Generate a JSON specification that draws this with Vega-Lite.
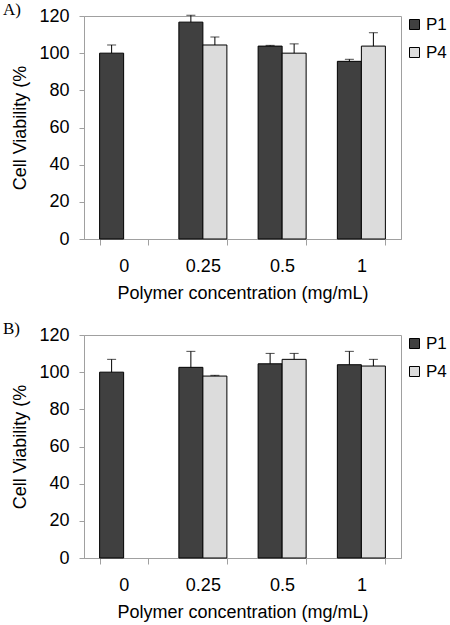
{
  "$schema": "https://vega.github.io/schema/vega-lite/v6.json",
  "padding": {"left": 2, "top": 0, "right": 0, "bottom": 0},
  "spacing": 16,
  "background": "white",
  "data": {
    "values": [
      {"panel": "A", "conc": "0", "polymer": "P1", "value": 100, "err": 104.4},
      {"panel": "A", "conc": "0.25", "polymer": "P1", "value": 116.7, "err": 120.4},
      {"panel": "A", "conc": "0.25", "polymer": "P4", "value": 104.4, "err": 108.7},
      {"panel": "A", "conc": "0.5", "polymer": "P1", "value": 103.8, "err": 104.2},
      {"panel": "A", "conc": "0.5", "polymer": "P4", "value": 100, "err": 105},
      {"panel": "A", "conc": "1", "polymer": "P1", "value": 95.6, "err": 96.7},
      {"panel": "A", "conc": "1", "polymer": "P4", "value": 103.8, "err": 111},
      {"panel": "B", "conc": "0", "polymer": "P1", "value": 100, "err": 106.9},
      {"panel": "B", "conc": "0.25", "polymer": "P1", "value": 102.6, "err": 111.2},
      {"panel": "B", "conc": "0.25", "polymer": "P4", "value": 97.9, "err": 98.3},
      {"panel": "B", "conc": "0.5", "polymer": "P1", "value": 104.5, "err": 110.1},
      {"panel": "B", "conc": "0.5", "polymer": "P4", "value": 106.9, "err": 110.1},
      {"panel": "B", "conc": "1", "polymer": "P1", "value": 104, "err": 111.2},
      {"panel": "B", "conc": "1", "polymer": "P4", "value": 103.3, "err": 106.9}
    ]
  },
  "config": {
    "font": "Liberation Sans",
    "view": {"stroke": "#a0a0a0", "strokeWidth": 1},
    "axis": {
      "domainColor": "#a0a0a0",
      "tickColor": "#a0a0a0",
      "labelColor": "black",
      "titleColor": "black",
      "labelFontSize": 18,
      "titleFontSize": 18,
      "titleFontWeight": "normal",
      "labelFont": "Liberation Sans",
      "titleFont": "Liberation Sans",
      "grid": false
    },
    "axisY": {
      "title": "Cell Viability (%",
      "values": [0, 20, 40, 60, 80, 100, 120],
      "labelOverlap": false,
      "tickSize": 5,
      "labelPadding": 10,
      "titlePadding": 9
    },
    "legend": {
      "orient": "right",
      "offset": 5,
      "padding": 0,
      "symbolType": "square",
      "symbolSize": 100,
      "symbolStrokeColor": "black",
      "symbolStrokeWidth": 1,
      "labelFontSize": 17,
      "labelFont": "Liberation Sans",
      "labelColor": "black",
      "labelOffset": 3,
      "rowPadding": 10
    },
    "title": {
      "font": "Liberation Serif",
      "fontSize": 17,
      "fontWeight": "normal",
      "color": "black",
      "anchor": "start",
      "frame": "bounds",
      "offset": -12,
      "dx": -9
    }
  },
  "resolve": {"scale": {"color": "independent"}, "legend": {"color": "independent"}},
  "vconcat": [
    {
      "title": {"text": "A)"},
      "width": 317,
      "height": 223,
      "transform": [{"filter": "datum.panel === 'A'"}],
      "encoding": {
        "x": {
          "field": "conc", "type": "ordinal", "sort": ["0", "0.25", "0.5", "1"],
          "scale": {"paddingInner": 0.394, "paddingOuter": 0.197},
          "axis": {"title": "Polymer concentration (mg/mL)", "labelAngle": 0, "tickBand": "extent", "tickSize": 6, "labelPadding": 12, "titlePadding": 9}
        },
        "xOffset": {"field": "polymer", "type": "nominal", "scale": {"domain": ["P1", "P4"], "paddingInner": 0, "paddingOuter": 0}}
      },
      "layer": [
        {
          "mark": {"type": "bar", "stroke": "black", "strokeWidth": 1},
          "encoding": {
            "y": {"field": "value", "type": "quantitative", "scale": {"domain": [0, 120]}, "title": "Cell Viability (%"},
            "color": {"field": "polymer", "type": "nominal", "scale": {"domain": ["P1", "P4"], "range": ["#404040", "#dcdcdc"]}, "legend": {"title": null}}
          }
        },
        {
          "mark": {"type": "rule", "color": "black", "strokeWidth": 1},
          "encoding": {
            "y": {"field": "err", "type": "quantitative", "title": "Cell Viability (%"},
            "y2": {"field": "value"}
          }
        },
        {
          "mark": {"type": "tick", "orient": "horizontal", "size": 9, "thickness": 1, "color": "black"},
          "encoding": {
            "y": {"field": "err", "type": "quantitative", "title": "Cell Viability (%"}
          }
        }
      ]
    },
    {
      "title": {"text": "B)"},
      "width": 317,
      "height": 223,
      "transform": [{"filter": "datum.panel === 'B'"}],
      "encoding": {
        "x": {
          "field": "conc", "type": "ordinal", "sort": ["0", "0.25", "0.5", "1"],
          "scale": {"paddingInner": 0.394, "paddingOuter": 0.197},
          "axis": {"title": "Polymer concentration (mg/mL)", "labelAngle": 0, "tickBand": "extent", "tickSize": 6, "labelPadding": 12, "titlePadding": 9}
        },
        "xOffset": {"field": "polymer", "type": "nominal", "scale": {"domain": ["P1", "P4"], "paddingInner": 0, "paddingOuter": 0}}
      },
      "layer": [
        {
          "mark": {"type": "bar", "stroke": "black", "strokeWidth": 1},
          "encoding": {
            "y": {"field": "value", "type": "quantitative", "scale": {"domain": [0, 120]}, "title": "Cell Viability (%"},
            "color": {"field": "polymer", "type": "nominal", "scale": {"domain": ["P1", "P4"], "range": ["#404040", "#dcdcdc"]}, "legend": {"title": null}}
          }
        },
        {
          "mark": {"type": "rule", "color": "black", "strokeWidth": 1},
          "encoding": {
            "y": {"field": "err", "type": "quantitative", "title": "Cell Viability (%"},
            "y2": {"field": "value"}
          }
        },
        {
          "mark": {"type": "tick", "orient": "horizontal", "size": 9, "thickness": 1, "color": "black"},
          "encoding": {
            "y": {"field": "err", "type": "quantitative", "title": "Cell Viability (%"}
          }
        }
      ]
    }
  ]
}
